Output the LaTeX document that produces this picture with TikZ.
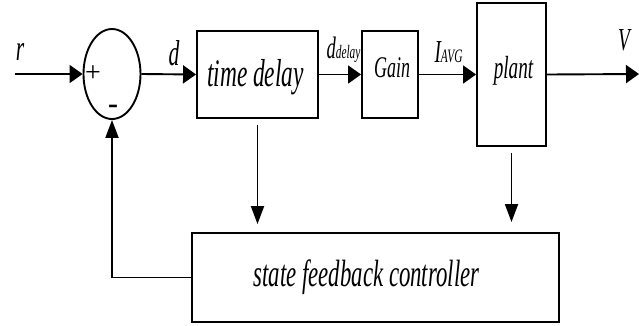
\documentclass[tikz,border=0pt]{standalone}
\usepackage{fontspec}
\setmainfont{Liberation Serif}
\newfontfamily\condfont[FakeStretch=0.6]{Liberation Serif}
\usetikzlibrary{arrows.meta,shapes.geometric}
\newcommand{\fs}[1]{\fontsize{#1}{#1}\selectfont}
\tikzset{
  x=1pt, y=-1pt,
  line/.style={line width=1.9pt},
  blk/.style={draw, line width=1.9pt, inner sep=0pt},
  hto/.style={line, -{Triangle[length=13pt,width=18pt]}},
  vto/.style={line, -{Triangle[length=18pt,width=13pt]}},
  lbl/.style={inner sep=0pt, anchor=base, font=\condfont\itshape},
}
\begin{document}
\begin{tikzpicture}
\useasboundingbox (0,0) rectangle (639,325);

% blocks
\node[blk, ellipse, minimum width=57pt, minimum height=90pt] (sum) at (112,74) {};
\node[blk, minimum width=121pt, minimum height=87pt] (delay) at (257.5,74.5) {};
\node[blk, minimum width=56pt, minimum height=87pt] (gain) at (390,74.5) {};
\node[blk, minimum width=69pt, minimum height=143pt] (plant) at (511.5,74.5) {};
\node[blk, minimum width=367pt, minimum height=89pt] (ctrl) at (375.5,277.5) {};

% block texts
\node[lbl, font=\condfont\itshape\fs{39}] (tdtext) at (255.5,86) {time delay};
\node[lbl, font=\condfont\itshape\fs{30}] (gaintext) at (392,77) {Gain};
\node[lbl, font=\condfont\itshape\fs{32}] (planttext) at (513.5,78) {plant};
\node[lbl, font=\condfont\itshape\fs{38}] (ctrltext) at (366.5,286) {state feedback controller};

% summing junction signs
\node[inner sep=0pt, font=\fs{28}] (plus) at (93,74) {+};
\node[inner sep=0pt, font=\bfseries\fs{30}] (minus) at (113,109) {-};

% terminals
\coordinate (in) at (15,74);
\coordinate (out) at (639,74);

% signal labels
\node[lbl, font=\condfont\itshape\fs{36}] (rlab) at (20,60) {r};
\node[lbl, font=\condfont\itshape\fs{36}] (dlab) at (174,65) {d};
\node[lbl] (ddlab) at (343.5,58) {{\fs{31}d}{\fs{19}delay}};
\node[lbl] (ilab) at (448.5,62) {{\fs{32}I}{\fs{19}AVG}};
\node[lbl, font=\condfont\itshape\fs{32}] (vlab) at (624,50) {V};

% forward path
\draw[hto] (in) -- (sum.west);
\draw[hto] (sum.east) -- (delay.west);
\draw[hto] (delay.east) -- (gain.west);
\draw[hto] (gain.east) -- (plant.west);
\draw[hto] (plant.east) -- (out);

% measurements into the controller
\draw[vto, shorten <=6pt, shorten >=8pt] (delay.south) -- (delay.south |- ctrl.north);
\draw[vto, shorten <=6pt, shorten >=10pt] (plant.south) -- (plant.south |- ctrl.north);

% feedback to the junction
\draw[vto] (ctrl.west) -| (sum.south);
\end{tikzpicture}
\end{document}
